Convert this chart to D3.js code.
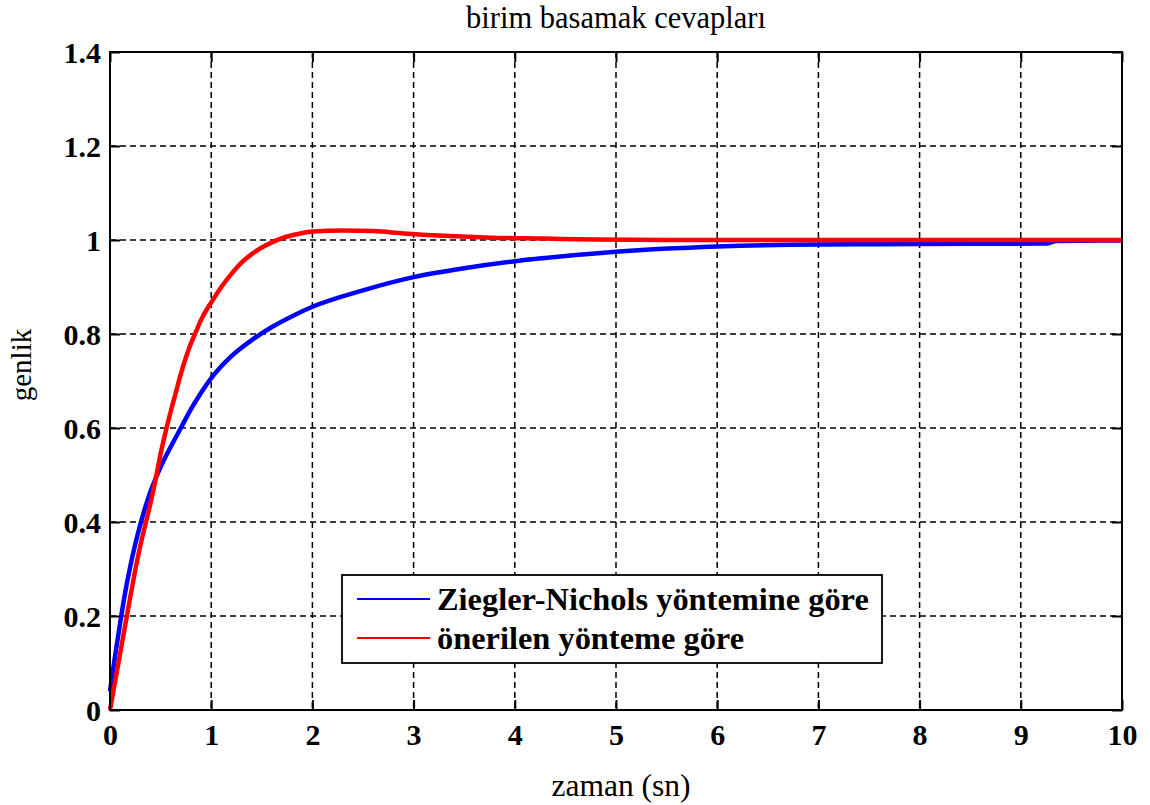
<!DOCTYPE html>
<html>
<head>
<meta charset="utf-8">
<script src="https://cdn.jsdelivr.net/npm/d3@7"></script>
<style>
  html, body { margin: 0; padding: 0; background: #fff; }
  svg { display: block; font-family: "Liberation Serif", "Times New Roman", serif; }
</style>
</head>
<body>
<svg id="chart" width="1150" height="805"></svg>
<script>
// Axis ticks and labels
const xTicks = [0, 1, 2, 3, 4, 5, 6, 7, 8, 9, 10];
const xTickLabels = ["0", "1", "2", "3", "4", "5", "6", "7", "8", "9", "10"];
const yTicks = [0, 0.2, 0.4, 0.6, 0.8, 1.0, 1.2, 1.4];
const yTickLabels = ["0", "0.2", "0.4", "0.6", "0.8", "1", "1.2", "1.4"];

// Series names (legend order)
const seriesNames = ["Ziegler-Nichols yöntemine göre", "önerilen yönteme göre"];

// Step response with Ziegler-Nichols tuning
const znTime  = [0, 0.05, 0.1, 0.15, 0.2, 0.25, 0.3, 0.35, 0.4, 0.45, 0.5, 0.6, 0.7, 0.8, 0.9, 1.0, 1.2, 1.4, 1.6, 1.8, 2.0, 2.5, 3.0, 3.5, 4.0, 4.5, 5.0, 6.0, 7.0, 7.6, 8.5, 9.26, 9.35, 10];
const znValue = [0.04, 0.115, 0.185, 0.25, 0.305, 0.353, 0.395, 0.432, 0.465, 0.492, 0.517, 0.56, 0.6, 0.64, 0.675, 0.706, 0.753, 0.787, 0.815, 0.838, 0.858, 0.893, 0.921, 0.94, 0.955, 0.966, 0.975, 0.986, 0.9905, 0.991, 0.992, 0.9925, 0.998, 0.999];

// Step response with the proposed tuning
const onTime  = [0, 0.05, 0.1, 0.15, 0.2, 0.25, 0.3, 0.35, 0.4, 0.45, 0.5, 0.55, 0.6, 0.65, 0.7, 0.75, 0.8, 0.85, 0.9, 0.95, 1.0, 1.1, 1.2, 1.3, 1.4, 1.5, 1.6, 1.7, 1.8, 1.9, 2.0, 2.3, 2.6, 2.9, 3.3, 3.76, 4.3, 4.8, 5.5, 10];
const onValue = [0, 0.06, 0.12, 0.18, 0.24, 0.298, 0.35, 0.395, 0.44, 0.49, 0.545, 0.592, 0.635, 0.675, 0.715, 0.75, 0.78, 0.805, 0.83, 0.85, 0.867, 0.9, 0.928, 0.952, 0.97, 0.984, 0.995, 1.004, 1.01, 1.015, 1.018, 1.02, 1.019, 1.014, 1.009, 1.005, 1.003, 1.001, 1.0, 1.0];

const seriesColors = ["#0000ff", "#ff0000"];

const svg = d3.select("#chart");
const plotLeft = 110, plotRight = 1122, plotTop = 52, plotBottom = 710;

const x = d3.scaleLinear().domain([0, 10]).range([plotLeft, plotRight]);
const y = d3.scaleLinear().domain([0, 1.4]).range([plotBottom, plotTop]);

// Dashed grid
const grid = svg.append("g").attr("class", "grid");
grid.selectAll("line.vx").data(xTicks.slice(1, -1)).join("line")
  .attr("x1", d => x(d)).attr("x2", d => x(d))
  .attr("y1", plotTop).attr("y2", plotBottom)
  .attr("stroke", "#000").attr("stroke-width", 1.5).attr("stroke-dasharray", "6,4");
grid.selectAll("line.hy").data(yTicks.slice(1, -1)).join("line")
  .attr("x1", plotLeft).attr("x2", plotRight)
  .attr("y1", d => y(d)).attr("y2", d => y(d))
  .attr("stroke", "#000").attr("stroke-width", 1.5).attr("stroke-dasharray", "6,4");

// Axes with inward ticks on all four sides
const tickLen = 10;
const axB = svg.append("g").attr("transform", `translate(0,${plotBottom})`)
  .call(d3.axisBottom(x).tickValues(xTicks).tickFormat((d, i) => xTickLabels[i]).tickSizeInner(-tickLen).tickSizeOuter(0).tickPadding(14));
const axT = svg.append("g").attr("transform", `translate(0,${plotTop})`)
  .call(d3.axisTop(x).tickValues(xTicks).tickFormat("").tickSizeInner(-tickLen).tickSizeOuter(0));
const axL = svg.append("g").attr("transform", `translate(${plotLeft},0)`)
  .call(d3.axisLeft(y).tickValues(yTicks).tickFormat((d, i) => yTickLabels[i]).tickSizeInner(-tickLen).tickSizeOuter(0).tickPadding(9));
const axR = svg.append("g").attr("transform", `translate(${plotRight},0)`)
  .call(d3.axisRight(y).tickValues(yTicks).tickFormat("").tickSizeInner(-tickLen).tickSizeOuter(0));

[axB, axT, axL, axR].forEach(g => {
  g.select(".domain").remove();
  g.selectAll(".tick line").attr("stroke", "#000").attr("stroke-width", 2);
  g.selectAll("text")
    .attr("fill", "#000")
    .attr("font-family", "'Liberation Serif', 'Times New Roman', serif")
    .attr("font-weight", "bold")
    .attr("font-size", 30);
});
axB.selectAll("text").attr("dy", "0.71em");
axL.selectAll("text").attr("dy", "0.34em");

// Response curves
const line = d3.line().x(d => x(d[0])).y(d => y(d[1])).curve(d3.curveMonotoneX);
const series = [
  znTime.map((t, i) => [t, znValue[i]]),
  onTime.map((t, i) => [t, onValue[i]])
];
const plot = svg.append("g");
series.forEach((s, i) => {
  plot.append("path").datum(s)
    .attr("d", line)
    .attr("fill", "none")
    .attr("stroke", seriesColors[i])
    .attr("stroke-width", 4.5)
    .attr("stroke-linejoin", "round");
});

// Plot frame
svg.append("rect")
  .attr("x", plotLeft).attr("y", plotTop)
  .attr("width", plotRight - plotLeft).attr("height", plotBottom - plotTop)
  .attr("fill", "none").attr("stroke", "#000").attr("stroke-width", 2);

// Legend
const lg = svg.append("g");
lg.append("rect")
  .attr("x", 342).attr("y", 575).attr("width", 540).attr("height", 88)
  .attr("fill", "#fff").attr("stroke", "#000").attr("stroke-width", 1.8);
seriesNames.forEach((name, i) => {
  const cy = 599 + i * 39;
  lg.append("line")
    .attr("x1", 357).attr("x2", 430).attr("y1", cy).attr("y2", cy)
    .attr("stroke", seriesColors[i]).attr("stroke-width", 2);
  lg.append("text")
    .attr("x", 437).attr("y", cy + 11)
    .attr("font-weight", "bold").attr("font-size", 32.4)
    .attr("fill", "#000")
    .text(name);
});

// Titles
svg.append("text")
  .attr("x", 616).attr("y", 28)
  .attr("text-anchor", "middle").attr("font-size", 30.5).attr("fill", "#000")
  .text("birim basamak cevapları");
svg.append("text")
  .attr("x", 621).attr("y", 796)
  .attr("text-anchor", "middle").attr("font-size", 31.5).attr("fill", "#000")
  .text("zaman (sn)");
svg.append("text")
  .attr("transform", "translate(31,365) rotate(-90)")
  .attr("text-anchor", "middle").attr("font-size", 29).attr("fill", "#000")
  .text("genlik");
</script>
</body>
</html>
